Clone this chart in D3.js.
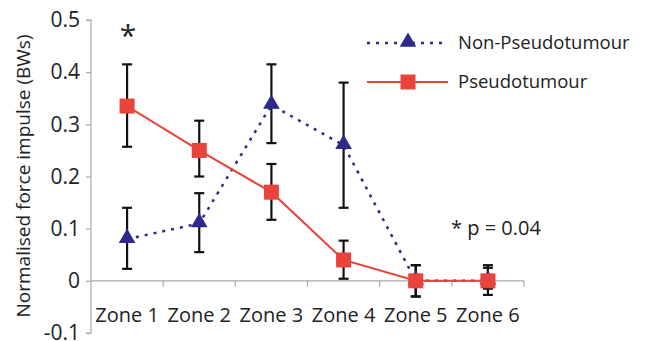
<!DOCTYPE html>
<html>
<head>
<meta charset="utf-8">
<script src="https://cdn.jsdelivr.net/npm/d3@7"></script>
<style>
  body { margin: 0; background: #fff; }
  text { font-family: "Open Sans", sans-serif; fill: #222; }
</style>
</head>
<body>
<div id="chart"></div>
<script>
const zones = ["Zone 1", "Zone 2", "Zone 3", "Zone 4", "Zone 5", "Zone 6"];
const yTicks = [-0.1, 0, 0.1, 0.2, 0.3, 0.4, 0.5];
const yTickLabels = ["-0.1", "0", "0.1", "0.2", "0.3", "0.4", "0.5"];

const nonPseudo = [0.08, 0.11, 0.337, 0.26, 0.0, 0.0];
const nonPseudoHi = [0.14, 0.168, 0.415, 0.38, 0.03, 0.03];
const nonPseudoLo = [0.023, 0.055, 0.264, 0.14, -0.03, -0.027];

const pseudo = [0.335, 0.25, 0.17, 0.04, 0.0, 0.0];
const pseudoHi = [0.415, 0.307, 0.224, 0.077, 0.03, 0.025];
const pseudoLo = [0.257, 0.2, 0.117, 0.004, -0.03, -0.015];

const W = 649, H = 341;
const navy = "#2e2a8c", red = "#e8443c", axisGrey = "#aaa";

const svg = d3.select("#chart").append("svg")
    .attr("width", W).attr("height", H);

const x = d3.scaleBand().domain(zones).range([91, 524]);
const y = d3.scaleLinear().domain([-0.1, 0.5]).range([333, 20]);
const cx = z => x(z) + x.bandwidth() / 2;

// y axis
const yAxis = svg.append("g").attr("transform", "translate(91,0)")
    .call(d3.axisLeft(y).tickValues(yTicks).tickSize(5).tickPadding(6)
        .tickFormat((d, i) => yTickLabels[i]));
yAxis.selectAll("path, line").attr("stroke", axisGrey).attr("stroke-width", 1.2);
yAxis.select(".domain").attr("d", `M-5,${y(0.5)}H0V${y(-0.1)}H-5`);
yAxis.selectAll("text").attr("font-size", 21).attr("font-family", "Open Sans").attr("fill", "#222");

// x axis at zero
const xAxis = svg.append("g").attr("transform", `translate(0,${y(0)})`);
xAxis.append("line").attr("x1", 91).attr("x2", 524)
    .attr("stroke", axisGrey).attr("stroke-width", 1.2);
xAxis.selectAll(".tk").data(zones).enter().append("line")
    .attr("x1", d => x(d) + x.bandwidth()).attr("x2", d => x(d) + x.bandwidth())
    .attr("y1", 0).attr("y2", 6)
    .attr("stroke", axisGrey).attr("stroke-width", 1.2);
svg.selectAll(".zl").data(zones).enter().append("text")
    .attr("x", cx).attr("y", 322)
    .attr("text-anchor", "middle").attr("font-size", 20)
    .text(d => d);

// y title
svg.append("text")
    .attr("transform", "translate(30,176) rotate(-90)")
    .attr("text-anchor", "middle").attr("font-size", 19)
    .text("Normalised force impulse (BWs)");

const line = d3.line().x((d, i) => cx(zones[i])).y(d => y(d));

svg.append("path").datum(nonPseudo).attr("d", line)
    .attr("fill", "none").attr("stroke", navy).attr("stroke-width", 2.5)
    .attr("stroke-dasharray", "3,6");
svg.append("path").datum(pseudo).attr("d", line)
    .attr("fill", "none").attr("stroke", red).attr("stroke-width", 2);

function errorBars(hi, lo) {
  const g = svg.append("g").attr("stroke", "#111").attr("stroke-width", 2.2);
  zones.forEach((z, i) => {
    const xc = cx(z);
    g.append("line").attr("x1", xc).attr("x2", xc).attr("y1", y(hi[i])).attr("y2", y(lo[i]));
    g.append("line").attr("x1", xc - 5).attr("x2", xc + 5).attr("y1", y(hi[i])).attr("y2", y(hi[i]));
    g.append("line").attr("x1", xc - 5).attr("x2", xc + 5).attr("y1", y(lo[i])).attr("y2", y(lo[i]));
  });
}
errorBars(nonPseudoHi, nonPseudoLo);
errorBars(pseudoHi, pseudoLo);

const tri = d3.symbol().type(d3.symbolTriangle).size(120);
svg.selectAll(".tri").data(nonPseudo).enter().append("path")
    .attr("d", tri)
    .attr("transform", (d, i) => `translate(${cx(zones[i])},${y(d) - 1})`)
    .attr("fill", navy);
svg.selectAll(".sq").data(pseudo).enter().append("rect")
    .attr("x", (d, i) => cx(zones[i]) - 7.5).attr("y", d => y(d) - 7.5)
    .attr("width", 15).attr("height", 15)
    .attr("fill", red);

// significance
svg.append("text").attr("x", cx(zones[0]) + 1).attr("y", 46)
    .attr("text-anchor", "middle").attr("font-size", 30).text("*");
svg.append("text").attr("x", 451).attr("y", 235)
    .attr("font-size", 20).text("* p = 0.04");

// legend
const leg = svg.append("g");
leg.append("line").attr("x1", 367).attr("x2", 448).attr("y1", 43).attr("y2", 43)
    .attr("stroke", navy).attr("stroke-width", 2.5).attr("stroke-dasharray", "3,6");
leg.append("path").attr("d", tri).attr("transform", "translate(408,42)").attr("fill", navy);
leg.append("text").attr("x", 458).attr("y", 49).attr("font-size", 18.5).text("Non-Pseudotumour");
leg.append("line").attr("x1", 367).attr("x2", 448).attr("y1", 82).attr("y2", 82)
    .attr("stroke", red).attr("stroke-width", 2);
leg.append("rect").attr("x", 400.5).attr("y", 74.5).attr("width", 15).attr("height", 15).attr("fill", red);
leg.append("text").attr("x", 458).attr("y", 88).attr("font-size", 18.5).text("Pseudotumour");
</script>
</body>
</html>
